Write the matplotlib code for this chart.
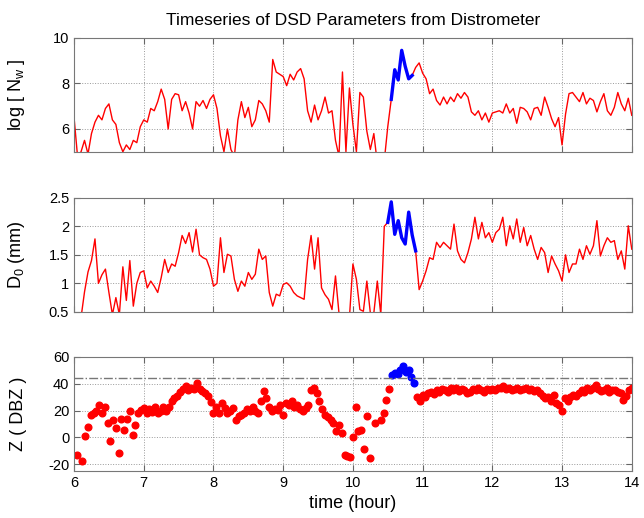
import numpy as np
import matplotlib.pyplot as plt

plt.rcParams['font.family'] = ['Liberation Sans', 'DejaVu Sans']
plt.rcParams['axes.unicode_minus'] = False
plt.rcParams['mathtext.default'] = 'regular'

# time grids (hours)
t_line = np.round(np.arange(6.0, 14.0001, 0.05), 2)
t_dot = np.round(np.arange(6.0, 14.0001, 0.04), 2)

# log(Nw), 0.05 h steps, 6.00 .. 14.00
log_nw = [
    6.5, 4.8, 5.0, 5.5, 4.9, 5.8, 6.3, 6.6, 6.4, 6.9,
    7.1, 6.4, 6.2, 5.4, 5.0, 5.3, 5.1, 5.5, 5.4, 6.1,
    6.4, 6.3, 6.9, 6.8, 7.2, 7.75, 7.3, 6.0, 7.3, 7.55,
    7.5, 6.8, 7.2, 6.7, 6.0, 7.2, 7.0, 7.25, 6.9, 7.3,
    7.5, 6.9, 5.7, 5.0, 6.0, 5.1, 4.8, 6.4, 7.2, 6.5,
    6.95, 6.1, 6.4, 7.25, 7.1, 6.8, 6.3, 9.05, 8.5, 8.4,
    8.3, 7.9, 8.4, 8.15, 8.5, 8.65, 8.2, 6.8, 6.3, 7.05,
    6.4, 6.8, 7.4, 6.7, 6.8, 5.5, 4.8, 8.5, 5.0, 7.8,
    6.2, 5.0, 7.6, 7.4, 5.9, 5.1, 5.8, 4.5, 4.5, 4.6,
    6.1, 7.3, 8.6, 8.15, 9.45, 8.75, 8.2, 8.35, 8.7, 8.9,
    8.45, 8.2, 7.55, 7.75, 7.25, 7.05, 7.4, 7.1, 7.4, 7.2,
    7.55, 7.35, 7.6, 7.4, 6.75, 6.6, 6.8, 6.4, 6.7, 6.3,
    6.7, 6.75, 6.8, 6.7, 7.1, 6.7, 6.9, 6.25, 6.95, 6.9,
    6.75, 6.4, 6.9, 6.95, 6.6, 7.4, 6.95, 6.45, 6.1, 6.5,
    5.3, 6.65, 7.55, 7.6, 7.4, 7.2, 7.6, 7.1, 7.35, 7.25,
    6.75, 7.2, 7.55, 6.8, 6.6, 6.95, 7.6, 7.1, 6.8, 7.35,
    6.6,
]

# D0 (mm), 0.05 h steps, 6.00 .. 14.00
d0 = [
    0.4, 0.4, 0.4, 0.85, 1.2, 1.4, 1.78, 1.0, 1.15, 1.25,
    0.84, 0.45, 0.75, 0.45, 1.29, 0.7, 1.4, 0.6, 1.0, 1.19,
    1.22, 0.92, 1.04, 0.95, 0.84, 1.1, 1.42, 1.19, 1.34, 1.3,
    1.54, 1.84, 1.7, 1.89, 1.55, 1.95, 1.5, 1.45, 1.42, 1.25,
    0.95, 1.0, 1.8, 1.19, 1.51, 1.48, 1.07, 0.86, 1.04, 0.95,
    1.19, 1.07, 1.16, 1.6, 1.42, 1.48, 0.84, 0.6, 0.81, 0.78,
    0.98, 1.01, 0.95, 0.84, 0.78, 0.75, 0.72, 1.42, 1.84, 1.25,
    1.8, 0.92, 0.8, 0.72, 0.54, 1.13, 0.48, 0.4, 0.4, 0.4,
    1.34, 1.07, 0.54, 0.51, 1.04, 0.48, 0.48, 1.04, 0.45, 2.0,
    2.07, 2.43, 1.86, 2.1, 1.8, 1.69, 2.25, 1.85, 1.57, 0.89,
    1.04, 1.22, 1.45, 1.42, 1.72, 1.63, 1.72, 1.66, 1.6, 2.04,
    1.57, 1.42, 1.36, 1.54, 1.78, 2.16, 1.78, 2.07, 1.8, 1.89,
    1.72, 1.89, 1.95, 2.16, 1.66, 2.01, 1.78, 2.13, 1.72, 1.98,
    1.66, 1.84, 1.6, 1.42, 1.63, 1.54, 1.19, 1.48, 1.34, 1.22,
    1.04, 1.5, 1.19, 1.34, 1.34, 1.6, 1.42, 1.66, 1.51, 1.66,
    2.1, 1.48, 1.66, 1.8, 1.72, 1.75, 1.42, 1.57, 1.25, 2.01,
    1.6,
]

# Z (dBZ), 0.04 h steps, 6.00 .. 14.00
nan = np.nan
z_dbz = [
    nan, -13.4, nan, -18, 1.3, 8, 17, 18.5, 19.4, 24,
    18, 23, 10.7, -3, 13, 7, -11.6, 14, 5.8, 14,
    19.4, 2, 9.5, 18, 20.6,
    22, 18, 21, 19, 23, 18.5, 20, 22.5, 19.5, 23,
    27, 29, 31, 34, 36, 38, 35.5, 37, 36, 40.5,
    36, 34.5, 33, 31, 26,
    18, 23, 18, 25.6, 22, 18, 20, 22, 13, 15.7,
    17, 18, 21, 19.5, 23, 20, 18, 27, 34.3, 29,
    23, 19.4, 21.5, 20.6, 24,
    17, 25.6, 24, 27, 23, 24, 21, 19.4, 22, 24,
    35.5, 36.8, 33, 27, 21, 17, 15, 13, 10.7, 4.5,
    9.5, 3, -13, -14, -15,
    0, 23, 4.5, 5.8, -9, 15.7, -15.3, nan, 10.7, nan,
    13, 18, 28, 36.3, 46.7, 48, 47.5, 50.4, 53, 49,
    50.4, 45, 40.5, 30, 27,
    31.8, 30, 33, 34, 32.5, 35.5, 34, 36, 35, 34,
    36.8, 35.5, 36.5, 34.5, 36, 35, 33, 34, 36, 35,
    36.8, 35, 34, 36, 35.5,
    36, 35, 36.5, 37, 38, 36, 37, 35.5, 36, 37,
    35, 36, 36.8, 35.5, 36, 34.3, 35, 33, 31, 29,
    30, 27, 31.8, 25.6, 24,
    20, 29, 27, 30, 31.8, 31, 33, 35.5, 34, 36.8,
    35, 37, 39.3, 36, 34.3, 35, 36.8, 34, 35.5, 35,
    34, 33, 28, 30.6, 35.5, 36.8,
]

z_threshold = 44
x_ticks = [6, 7, 8, 9, 10, 11, 12, 13, 14]
d0_ticks = [0.5, 1, 1.5, 2, 2.5]
d0_labels = ['0.5', '1', '1.5', '2', '2.5']

log_nw = np.array(log_nw)
d0 = np.array(d0)
z_dbz = np.array(z_dbz)

fig = plt.figure(figsize=(6.44, 5.18), dpi=100)
ax1 = fig.add_axes([0.115, 0.707, 0.866, 0.220])
ax2 = fig.add_axes([0.115, 0.398, 0.866, 0.220])
ax3 = fig.add_axes([0.115, 0.091, 0.866, 0.220])

# panel 1
ax1.plot(t_line, log_nw, color='red', lw=1.0)
m1 = (t_line >= 10.54) & (t_line <= 10.86)
ax1.plot(t_line[m1], log_nw[m1], color='blue', lw=2.4)
ax1.set_ylim(5, 10)
ax1.set_yticks([6, 8, 10])
ax1.set_ylabel('log [ N$_w$ ]', fontsize=13)
ax1.set_title('Timeseries of DSD Parameters from Distrometer', fontsize=12.5, pad=9)

# panel 2
ax2.plot(t_line, d0, color='red', lw=1.0)
m2 = (t_line >= 10.49) & (t_line <= 10.91)
ax2.plot(t_line[m2], d0[m2], color='blue', lw=2.4)
ax2.set_ylim(0.5, 2.5)
ax2.set_yticks(d0_ticks)
ax2.set_yticklabels(d0_labels)
ax2.set_ylabel('D$_0$ (mm)', fontsize=13)

# panel 3
m3 = (t_dot >= 10.55) & (t_dot <= 10.89)
ax3.plot(t_dot[~m3], z_dbz[~m3], 'o', color='red', ms=4.8, mec='red')
ax3.plot(t_dot[m3], z_dbz[m3], 'o', color='blue', ms=4.8, mec='blue')
ax3.axhline(z_threshold, color='#777777', ls='-.', lw=1.0)
ax3.set_ylim(-25, 60)
ax3.set_yticks([-20, 0, 20, 40, 60])
ax3.set_ylabel('Z ( DBZ )', fontsize=13)
ax3.set_xlabel('time (hour)', fontsize=13)

for ax in (ax1, ax2, ax3):
    ax.set_xlim(6, 14)
    ax.set_xticks(x_ticks)
    ax.grid(True, ls=':', color='#999999', lw=0.7)
    ax.tick_params(direction='in', top=True, right=True, labelsize=10.5,
                   color='#666666', length=4)
    for s in ax.spines.values():
        s.set_color('#777777')
    ax.yaxis.set_label_coords(-0.085, 0.5)
for ax in (ax1, ax2):
    ax.tick_params(labelbottom=False)

plt.savefig('out.png', dpi=100)
